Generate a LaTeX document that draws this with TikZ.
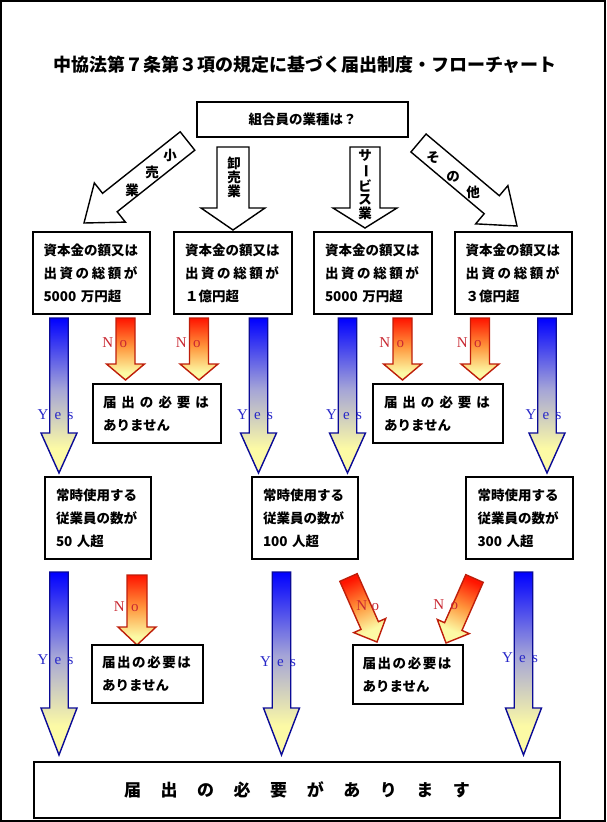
\documentclass[tikz,border=0pt]{standalone}
\usepackage{fontspec}
\setmainfont{Noto Sans CJK JP}
\newfontfamily\latinserif{Liberation Serif}
\usetikzlibrary{calc}
\definecolor{yesblue}{RGB}{0,0,255}
\definecolor{yesmid}{RGB}{165,165,215}
\definecolor{yesline}{RGB}{10,10,150}
\definecolor{yestext}{RGB}{40,40,200}
\definecolor{notext}{RGB}{200,40,50}
\definecolor{nored}{RGB}{255,20,0}
\definecolor{nomid}{RGB}{255,150,60}
\definecolor{noline}{RGB}{190,30,10}
\definecolor{paleyellow}{RGB}{252,250,165}
\pgfdeclareverticalshading{yesgrad}{100bp}{color(0bp)=(paleyellow); color(25bp)=(paleyellow); color(33bp)=(paleyellow); color(52bp)=(yesmid); color(75bp)=(yesblue); color(100bp)=(yesblue)}
\pgfdeclareverticalshading{nograd}{100bp}{color(0bp)=(paleyellow); color(25bp)=(paleyellow); color(31bp)=(paleyellow); color(52bp)=(nomid); color(75bp)=(nored); color(100bp)=(nored)}
% #1 tail, #2 tip, #3 half shaft width, #4 half head width, #5 head length, #6 style
\newcommand{\fatarrow}[6]{%
  \coordinate (#2h) at ($(#2)!#5!(#1)$);
  \path[#6] ($(#1)!#3!90:(#2)$) -- ($(#2h)!#3!90:(#2)$) -- ($(#2h)!#4!90:(#2)$)
    -- (#2) -- ($(#2h)!#4!-90:(#2)$) -- ($(#2h)!#3!-90:(#2)$) -- ($(#1)!#3!-90:(#2)$) -- cycle;}
\tikzset{
  box/.style={draw, line width=1.5pt, fill=white, inner sep=0pt, align=left,
    font=\bfseries\fontsize{13.5}{23}\selectfont},
  whitearrow/.style={draw=black, fill=white, line width=1.4pt, line join=miter},
  yesarrow/.style={draw=yesline, line width=1.4pt, shade, shading=yesgrad},
  noarrow/.style={draw=noline, line width=1.4pt, shade, shading=nograd},
  yeslabel/.style={text=yestext, inner sep=0pt, font=\latinserif\fontsize{15}{15}\selectfont},
  nolabel/.style={text=notext, inner sep=0pt, font=\latinserif\fontsize{15}{15}\selectfont},
  arrowtext/.style={inner sep=0pt, align=center, font=\bfseries\fontsize{13.5}{13.7}\selectfont},
}
\newcommand{\capline}{\makebox[94pt][s]{出\hfill 資\hfill の\hfill 総\hfill 額\hfill が}}
\newcommand{\nolineA}{\makebox[106pt][s]{届\hfill 出\hfill の\hfill 必\hfill 要\hfill は}}
\newcommand{\nolineB}{\makebox[89pt][s]{届\hfill 出\hfill の\hfill 必\hfill 要\hfill は}}
\begin{document}
\begin{tikzpicture}[x=1pt,y=-1pt]
\useasboundingbox (0,0) rectangle (606,822);
\draw[line width=1.5pt] (1,1) rectangle (605,821);

% title
\node[font=\bfseries\fontsize{18}{20}\selectfont] (title) at (305,65) {中協法第７条第３項の規定に基づく届出制度・フローチャート};

% top box
\node[box, minimum width=211pt, minimum height=35pt, align=center] (top) at (302.5,119.5) {組合員の業種は？};

% first-level arrows
\coordinate (rt) at (187.5,141); \coordinate (rp) at (84,223);
\coordinate (wt) at (233,147);   \coordinate (wp) at (233,230);
\coordinate (st) at (365,147);   \coordinate (sp) at (365,228);
\coordinate (ot) at (418.5,143); \coordinate (op) at (517,226);
\fatarrow{rt}{rp}{11.75pt}{25pt}{33pt}{whitearrow}
\fatarrow{wt}{wp}{16pt}{32pt}{22pt}{whitearrow}
\fatarrow{st}{sp}{15pt}{32pt}{20pt}{whitearrow}
\fatarrow{ot}{op}{11.75pt}{25pt}{33pt}{whitearrow}
\node[arrowtext] (r1) at (170,155) {小};
\node[arrowtext] (r2) at (152,172) {売};
\node[arrowtext] (r3) at (132,190) {業};
\node[arrowtext] (wlab) at (234,177.5) {卸\\売\\業};
\node[arrowtext, font=\bfseries\fontsize{13.5}{13.8}\selectfont] (slab) at (365,185) {サ\\\rotatebox[origin=c]{-90}{ー}\\ビ\\ス\\業};
\node[arrowtext] (o1) at (433,158) {そ};
\node[arrowtext] (o2) at (453,177) {の};
\node[arrowtext] (o3) at (473,192) {他};

% row 1 boxes
\node[box, minimum width=117pt, minimum height=82pt, text width=96pt] (ba) at (91.5,273) {資本金の額又は\\\capline\\5000 万円超};
\node[box, minimum width=118pt, minimum height=82pt, text width=96pt] (bb) at (233,273) {資本金の額又は\\\capline\\１億円超};
\node[box, minimum width=118pt, minimum height=82pt, text width=96pt] (bc) at (373,273) {資本金の額又は\\\capline\\5000 万円超};
\node[box, minimum width=117pt, minimum height=82pt, text width=96pt] (bd) at (513.5,273) {資本金の額又は\\\capline\\３億円超};

% row 1 -> row 2 arrows
\coordinate (ya1) at (59,318);    \coordinate (ya1p) at (59,473);
\coordinate (yb1) at (258.5,318); \coordinate (yb1p) at (258.5,473);
\coordinate (yc1) at (347.5,318); \coordinate (yc1p) at (347.5,473);
\coordinate (yd1) at (547,318);   \coordinate (yd1p) at (547,473);
\coordinate (na1) at (125.5,318); \coordinate (na1p) at (125.5,380);
\coordinate (nb1) at (199,318);   \coordinate (nb1p) at (199,380);
\coordinate (nc1) at (402.5,318); \coordinate (nc1p) at (402.5,380);
\coordinate (nd1) at (480,318);   \coordinate (nd1p) at (480,380);
\fatarrow{ya1}{ya1p}{9.25pt}{18pt}{40pt}{yesarrow}
\fatarrow{yb1}{yb1p}{9.25pt}{18pt}{40pt}{yesarrow}
\fatarrow{yc1}{yc1p}{9.25pt}{18pt}{40pt}{yesarrow}
\fatarrow{yd1}{yd1p}{9.25pt}{18pt}{40pt}{yesarrow}
\fatarrow{na1}{na1p}{9.5pt}{19pt}{16pt}{noarrow}
\fatarrow{nb1}{nb1p}{9.5pt}{19pt}{16pt}{noarrow}
\fatarrow{nc1}{nc1p}{9.5pt}{19pt}{16pt}{noarrow}
\fatarrow{nd1}{nd1p}{9.5pt}{19pt}{16pt}{noarrow}
\node[yeslabel] (yl1) at (55.5,415) {Y\hspace{6.25pt}e\hspace{6.25pt}s};
\node[yeslabel] (yl2) at (255,415) {Y\hspace{6.25pt}e\hspace{6.25pt}s};
\node[yeslabel] (yl3) at (344,415) {Y\hspace{6.25pt}e\hspace{6.25pt}s};
\node[yeslabel] (yl4) at (543.5,415) {Y\hspace{6.25pt}e\hspace{6.25pt}s};
\node[nolabel] (nl1) at (114.75,343) {N\hspace{6.5pt}o};
\node[nolabel] (nl2) at (188.25,343) {N\hspace{6.5pt}o};
\node[nolabel] (nl3) at (391.75,343) {N\hspace{6.5pt}o};
\node[nolabel] (nl4) at (469.25,343) {N\hspace{6.5pt}o};

% no boxes row 2
\node[box, minimum width=128pt, minimum height=59pt, text width=108pt] (nx1) at (157,413.5) {\nolineA\\ありません};
\node[box, minimum width=130pt, minimum height=59pt, text width=108pt] (nx2) at (438,413.5) {\nolineA\\ありません};

% row 2 boxes
\node[box, minimum width=106pt, minimum height=82pt, text width=84pt] (ca) at (98,518) {常時使用する\\従業員の数が\\50 人超};
\node[box, minimum width=106pt, minimum height=82pt, text width=84pt] (cb) at (305,518) {常時使用する\\従業員の数が\\100 人超};
\node[box, minimum width=107pt, minimum height=82pt, text width=84pt] (cc) at (519.5,518) {常時使用する\\従業員の数が\\300 人超};

% row 2 -> final arrows
\coordinate (ya2) at (59,572);    \coordinate (ya2p) at (59,755);
\coordinate (yb2) at (281.5,572); \coordinate (yb2p) at (281.5,755);
\coordinate (yc2) at (523.5,572); \coordinate (yc2p) at (523.5,755);
\coordinate (na2) at (137,575);   \coordinate (na2p) at (137,645);
\coordinate (nb2) at (348.5,577.5); \coordinate (nb2p) at (377,642);
\coordinate (nc2) at (474.5,578.5); \coordinate (nc2p) at (446,643);
\fatarrow{ya2}{ya2p}{9.25pt}{18pt}{47pt}{yesarrow}
\fatarrow{yb2}{yb2p}{9.25pt}{18pt}{47pt}{yesarrow}
\fatarrow{yc2}{yc2p}{9.25pt}{18pt}{47pt}{yesarrow}
\fatarrow{na2}{na2p}{10pt}{19pt}{18pt}{noarrow}
\fatarrow{nb2}{nb2p}{9.5pt}{17.5pt}{18pt}{noarrow, shading angle=23.8}
\fatarrow{nc2}{nc2p}{9.5pt}{17.5pt}{18pt}{noarrow, shading angle=-23.8}
\node[yeslabel] (yl5) at (55.5,660) {Y\hspace{6.25pt}e\hspace{6.25pt}s};
\node[yeslabel] (yl6) at (278,662) {Y\hspace{6.25pt}e\hspace{6.25pt}s};
\node[yeslabel] (yl7) at (520,658) {Y\hspace{6.25pt}e\hspace{6.25pt}s};
\node[nolabel] (nl5) at (126.25,607) {N\hspace{6.5pt}o};
\node[nolabel] (nl6) at (367.75,606) {N\hspace{4.5pt}o};
\node[nolabel] (nl7) at (445.75,605) {N\hspace{6.5pt}o};

% no boxes row 3
\node[box, minimum width=111pt, minimum height=58pt, text width=91pt] (ny1) at (147.5,674) {\nolineB\\ありません};
\node[box, minimum width=110pt, minimum height=59pt, text width=91pt] (ny2) at (408,674.5) {\nolineB\\ありません};

% final box
\node[box, minimum width=526pt, minimum height=56pt, align=center, font=\bfseries\fontsize{17}{20}\selectfont] (final) at (297,790)
  {\makebox[346pt][s]{届\hfill 出\hfill の\hfill 必\hfill 要\hfill が\hfill あ\hfill り\hfill ま\hfill す}};
\end{tikzpicture}
\end{document}
